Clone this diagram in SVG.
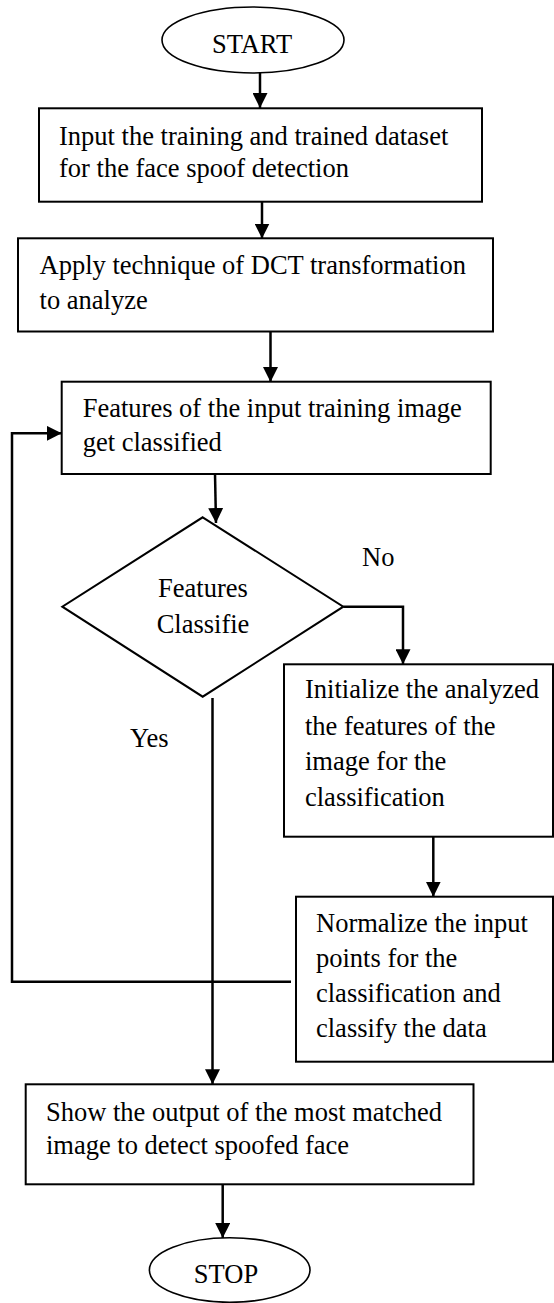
<svg xmlns="http://www.w3.org/2000/svg" width="554" height="1303" viewBox="0 0 554 1303">
<style>
.t{font-family:"Liberation Serif","Times New Roman",serif;font-size:26.5px;fill:#000}
.c{text-anchor:middle}
.b{fill:#fff;stroke:#000;stroke-width:2}
.e{fill:#fff;stroke:#000;stroke-width:1.6}
.k{fill:none;stroke:#000;stroke-width:2.5}
</style>
<defs>
<marker id="ah" viewBox="0 0 15 15" refX="15" refY="7.5" markerWidth="15" markerHeight="15" orient="auto" markerUnits="userSpaceOnUse">
<path d="M0,0 L15,7.5 L0,15 z" fill="#000"/>
</marker>
</defs>
<rect width="554" height="1303" fill="#fff"/>
<g id="connectors">
<path class="k" d="M260,73 V108" marker-end="url(#ah)"/>
<path class="k" d="M262,202 V238.5" marker-end="url(#ah)"/>
<path class="k" d="M270.5,331.5 V382" marker-end="url(#ah)"/>
<path class="k" d="M215,474 L216,523" marker-end="url(#ah)"/>
<path class="k" d="M343.3,606.7 H403 V664.3" marker-end="url(#ah)"/>
<path class="k" d="M433.3,836.7 V896.7" marker-end="url(#ah)"/>
<path class="k" d="M291,981.7 H12 V433.3 H61.7" marker-end="url(#ah)"/>
<path class="k" d="M212.5,698 V1084.3" marker-end="url(#ah)"/>
<path class="k" d="M222.7,1184.3 V1238" marker-end="url(#ah)"/>
<text class="t" x="362" y="566">No</text>
<text class="t" x="130" y="747">Yes</text>
</g>
<g id="start">
<ellipse class="e" cx="253" cy="40" rx="91" ry="33"/>
<text class="t c" x="252" y="53">START</text>
</g>
<g id="input">
<rect class="b" x="39" y="108.3" width="443" height="93.4"/>
<text class="t" x="59" y="145">Input the training and trained dataset</text>
<text class="t" x="59" y="177">for the face spoof detection</text>
</g>
<g id="dct">
<rect class="b" x="18" y="238.3" width="475" height="93.2"/>
<text class="t" x="39.6" y="274.3">Apply technique of DCT transformation</text>
<text class="t" x="39.6" y="309.3">to analyze</text>
</g>
<g id="features">
<rect class="b" x="61.7" y="381.7" width="429" height="92.3"/>
<text class="t" x="82.7" y="417">Features of the input training image</text>
<text class="t" x="82.7" y="450.7">get classified</text>
</g>
<g id="decision">
<polygon class="b" points="202.7,517.3 343.3,606.7 202.7,696.7 62.3,606.7"/>
<text class="t c" x="203" y="596.7">Features</text>
<text class="t c" x="203" y="632.7">Classifie</text>
</g>
<g id="initialize">
<rect class="b" x="284" y="664.3" width="269" height="172.4"/>
<text class="t" x="305" y="698.3">Initialize the analyzed</text>
<text class="t" x="305" y="735">the features of the</text>
<text class="t" x="305" y="770">image for the</text>
<text class="t" x="305" y="806">classification</text>
</g>
<g id="normalize">
<rect class="b" x="296" y="896.7" width="257" height="165"/>
<text class="t" x="316" y="931.7">Normalize the input</text>
<text class="t" x="316" y="966.7">points for the</text>
<text class="t" x="316" y="1001.7">classification and</text>
<text class="t" x="316" y="1037.3">classify the data</text>
</g>
<g id="show">
<rect class="b" x="25.7" y="1084.3" width="447.8" height="100"/>
<text class="t" x="46" y="1120.7">Show the output of the most matched</text>
<text class="t" x="46" y="1154">image to detect spoofed face</text>
</g>
<g id="stop">
<ellipse class="e" cx="229.7" cy="1270" rx="80.3" ry="32.3"/>
<text class="t c" x="226" y="1282.7">STOP</text>
</g>
</svg>
